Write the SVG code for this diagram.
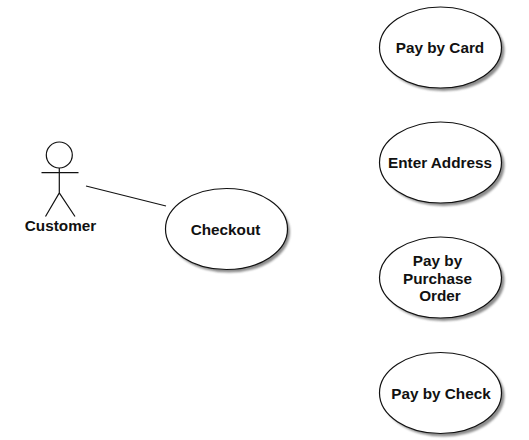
<svg xmlns="http://www.w3.org/2000/svg" width="529" height="440" viewBox="0 0 529 440">
<style>
text{font-family:"Liberation Sans",Arial,sans-serif;font-weight:bold;font-size:15.3px;fill:#111;text-anchor:middle}
.u{fill:#fff;stroke:#111;stroke-width:1.2}
.s{fill:#666;opacity:.75;filter:url(#b)}
.l{fill:none;stroke:#111;stroke-width:1.2}
</style>
<defs><filter id="b" x="-10%" y="-10%" width="120%" height="120%"><feGaussianBlur stdDeviation="1.2"/></filter></defs>
<rect width="529" height="440" fill="#fff"/>
<g id="connectors"><line class="l" x1="86" y1="186" x2="166" y2="206"/></g>
<g id="customer">
<circle class="l" cx="59.3" cy="155" r="13"/>
<path class="l" d="M59.3 168V193M41.500 172.700H78.500M45.500 216.500L59.300 193L75 216.500"/>
<text x="60.500" y="231">Customer</text>
</g>
<g id="checkout"><ellipse class="s" cx="229" cy="232" rx="61" ry="40.500"/><ellipse class="u" cx="226.500" cy="229" rx="61" ry="40.500"/><text x="225.500" y="234.500">Checkout</text></g>
<g id="pay-by-card"><ellipse class="s" cx="443.500" cy="50.500" rx="61" ry="40.500"/><ellipse class="u" cx="440.500" cy="47.500" rx="61" ry="40.500"/><text x="440" y="53">Pay by Card</text></g>
<g id="enter-address"><ellipse class="s" cx="443.500" cy="165.500" rx="61" ry="40.500"/><ellipse class="u" cx="440.500" cy="162.500" rx="61" ry="40.500"/><text x="440" y="168">Enter Address</text></g>
<g id="pay-by-purchase-order"><ellipse class="s" cx="443.500" cy="280.500" rx="61" ry="40.500"/><ellipse class="u" cx="440.500" cy="277.500" rx="61" ry="40.500"/><text x="437.500" y="266">Pay by</text><text x="437.500" y="284">Purchase</text><text x="440" y="301">Order</text></g>
<g id="pay-by-check"><ellipse class="s" cx="443.500" cy="396" rx="61" ry="40.500"/><ellipse class="u" cx="440.500" cy="393" rx="61" ry="40.500"/><text x="441" y="399">Pay by Check</text></g>
</svg>
